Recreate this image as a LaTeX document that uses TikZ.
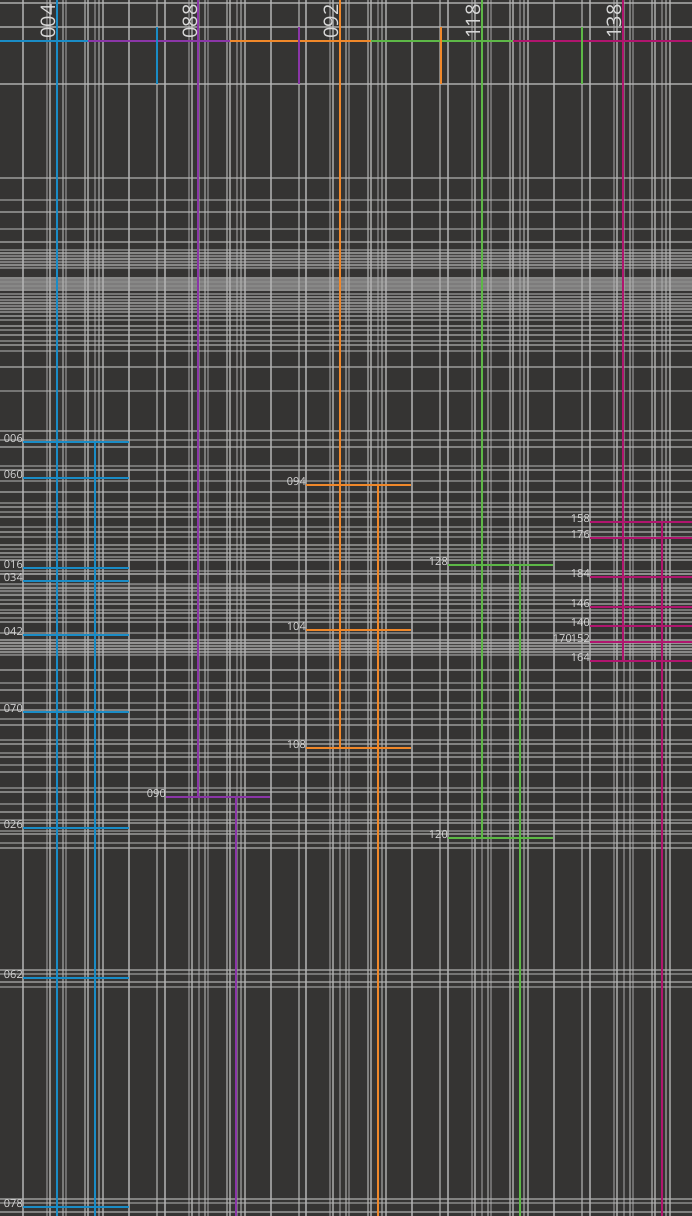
\documentclass[tikz,border=0pt]{standalone}
\usepackage{fontspec}
\setmainfont{Open Sans}
\definecolor{bgc}{HTML}{353433}
\definecolor{gridc}{HTML}{B6B6B6}
\definecolor{labc}{HTML}{D8D8D8}
\definecolor{cblue}{HTML}{1A8CC6}
\definecolor{cpurple}{HTML}{8B36A8}
\definecolor{corange}{HTML}{F0882A}
\definecolor{cgreen}{HTML}{5DB847}
\definecolor{cmag}{HTML}{B0156E}
\begin{document}
\begin{tikzpicture}[x=1pt,y=-1pt,
  gline/.style={draw=gridc, line width=1.1pt},
  band/.style={fill=gridc, opacity=0.12},
  trunk/.style={line width=2.4pt},
  branch/.style={line width=2.2pt},
  lab/.style={text=labc, font=\fontsize{11}{11}\selectfont, inner sep=0pt, anchor=south east},
  toplab/.style={text=labc, font=\fontsize{20}{20}\selectfont, inner sep=0pt, rotate=90, anchor=base east}]
\fill[bgc] (0,0) rectangle (692,1216);
\useasboundingbox (0,0) rectangle (692,1216);
\clip (0,0) rectangle (692,1216);
% light bands
\fill[band] (0,252) rectangle (692,268);
\fill[band] (0,277) rectangle (692,291);
\fill[band] (0,300) rectangle (692,313);
\fill[band] (0,584) rectangle (692,596);
\fill[band] (0,639) rectangle (692,655);
% vertical grid lines (periodic per column group)
\foreach \g in {23,165,306,448,590}{
  \foreach \o/\op in {0/0.75,24/0.45,27/0.7,34/0.45,40/0.55,43/0.45,62/0.6,65/0.7,72/0.45,76/0.55,80/0.7,106/0.75,134/0.6}{
    \draw[gline, opacity=\op] (\g+\o,0) -- (\g+\o,1216);
  }
}
% horizontal grid lines
\foreach \y/\op in {3/0.7,27/0.7,84/0.7,178/0.6,200/0.5,212/0.6,229/0.5,242/0.6,250/0.5,253/0.6,256/0.5,259/0.6,262/0.5,265/0.6,268/0.5,
  278/0.6,280/0.5,282/0.6,284/0.5,286/0.6,288/0.5,290/0.6,294/0.5,297/0.6,300/0.5,303/0.6,306/0.5,309/0.6,312/0.5,316/0.6,320/0.5,326/0.6,330/0.5,335/0.6,341/0.5,345/0.6,351/0.5,367/0.6,391/0.5,
  431/0.6,440/0.5,447/0.6,466/0.5,470/0.6,481/0.5,492/0.6,503/0.5,507/0.6,512/0.5,517/0.6,527/0.5,532/0.6,537/0.5,545/0.6,549/0.5,553/0.6,557/0.5,560/0.6,571/0.5,574/0.7,584/0.5,588/0.6,591/0.5,595/0.6,600/0.5,604/0.6,610/0.5,613/0.6,618/0.5,622/0.6,633/0.5,
  640/0.6,643/0.7,646/0.6,649/0.7,652/0.6,655/0.5,670/0.6,683/0.5,690/0.6,703/0.5,710/0.6,719/0.5,725/0.6,740/0.5,744/0.6,753/0.5,757/0.6,765/0.5,772/0.6,788/0.5,792/0.6,804/0.5,812/0.6,820/0.5,823/0.6,831/0.5,834/0.6,843/0.5,848/0.6,
  970/0.6,974/0.5,982/0.6,987/0.5,1199/0.6,1203/0.5,1212/0.6}{
  \draw[gline, opacity=\op] (0,\y) -- (692,\y);
}
% top bus
\draw[trunk, cblue]   (0,41) -- (88,41);
\draw[trunk, cpurple] (88,41) -- (230,41);
\draw[trunk, corange] (230,41) -- (371,41);
\draw[trunk, cgreen]  (371,41) -- (513,41);
\draw[trunk, cmag]    (513,41) -- (692,41);
% short ticks
\draw[branch, cblue]   (157,27) -- (157,84);
\draw[branch, cpurple] (299,27) -- (299,84);
\draw[branch, corange] (441,27) -- (441,84);
\draw[branch, cgreen]  (582,27) -- (582,84);
% trunks
\draw[trunk, cblue]   (57,0) -- (57,1216);
\draw[trunk, cpurple] (198,0) -- (198,797);
\draw[trunk, corange] (340,0) -- (340,748);
\draw[trunk, cgreen]  (482,0) -- (482,838);
\draw[trunk, cmag]    (623,0) -- (623,661);
% sub trunks
\draw[trunk, cblue]   (95,442) -- (95,1216);
\draw[trunk, cpurple] (236,797) -- (236,1216);
\draw[trunk, corange] (378,485) -- (378,1216);
\draw[trunk, cgreen]  (520,565) -- (520,1216);
\draw[trunk, cmag]    (662,522) -- (662,1216);
% top labels
\node[toplab] (t004) at (55,4) {004};
\node[toplab] (t088) at (197,4) {088};
\node[toplab] (t092) at (338,4) {092};
\node[toplab] (t118) at (480,4) {118};
\node[toplab] (t138) at (621,4) {138};
% blue branches
\foreach \y/\t in {442/006,478/060,568/016,581/034,635/042,712/070,828/026,978/062,1207/078}{
  \draw[branch, cblue] (23,\y) -- (129,\y);
  \node[lab] at (23,\y+1) {\t};
}
% purple
\draw[branch, cpurple] (166,797) -- (270,797);
\node[lab] (l090) at (166,798) {090};
% orange
\foreach \y/\t in {485/094,630/104,748/108}{
  \draw[branch, corange] (306,\y) -- (411,\y);
  \node[lab] at (306,\y+1) {\t};
}
% green
\foreach \y/\t in {565/128,838/120}{
  \draw[branch, cgreen] (448,\y) -- (553,\y);
  \node[lab] at (448,\y+1) {\t};
}
% magenta
\foreach \y/\t in {522/158,538/176,577/184,607/146,626/140,642/152,661/164}{
  \draw[branch, cmag] (590,\y) -- (692,\y);
  \node[lab] at (590,\y+1) {\t};
}
\node[lab] (l170) at (572,643) {170};
\end{tikzpicture}
\end{document}
